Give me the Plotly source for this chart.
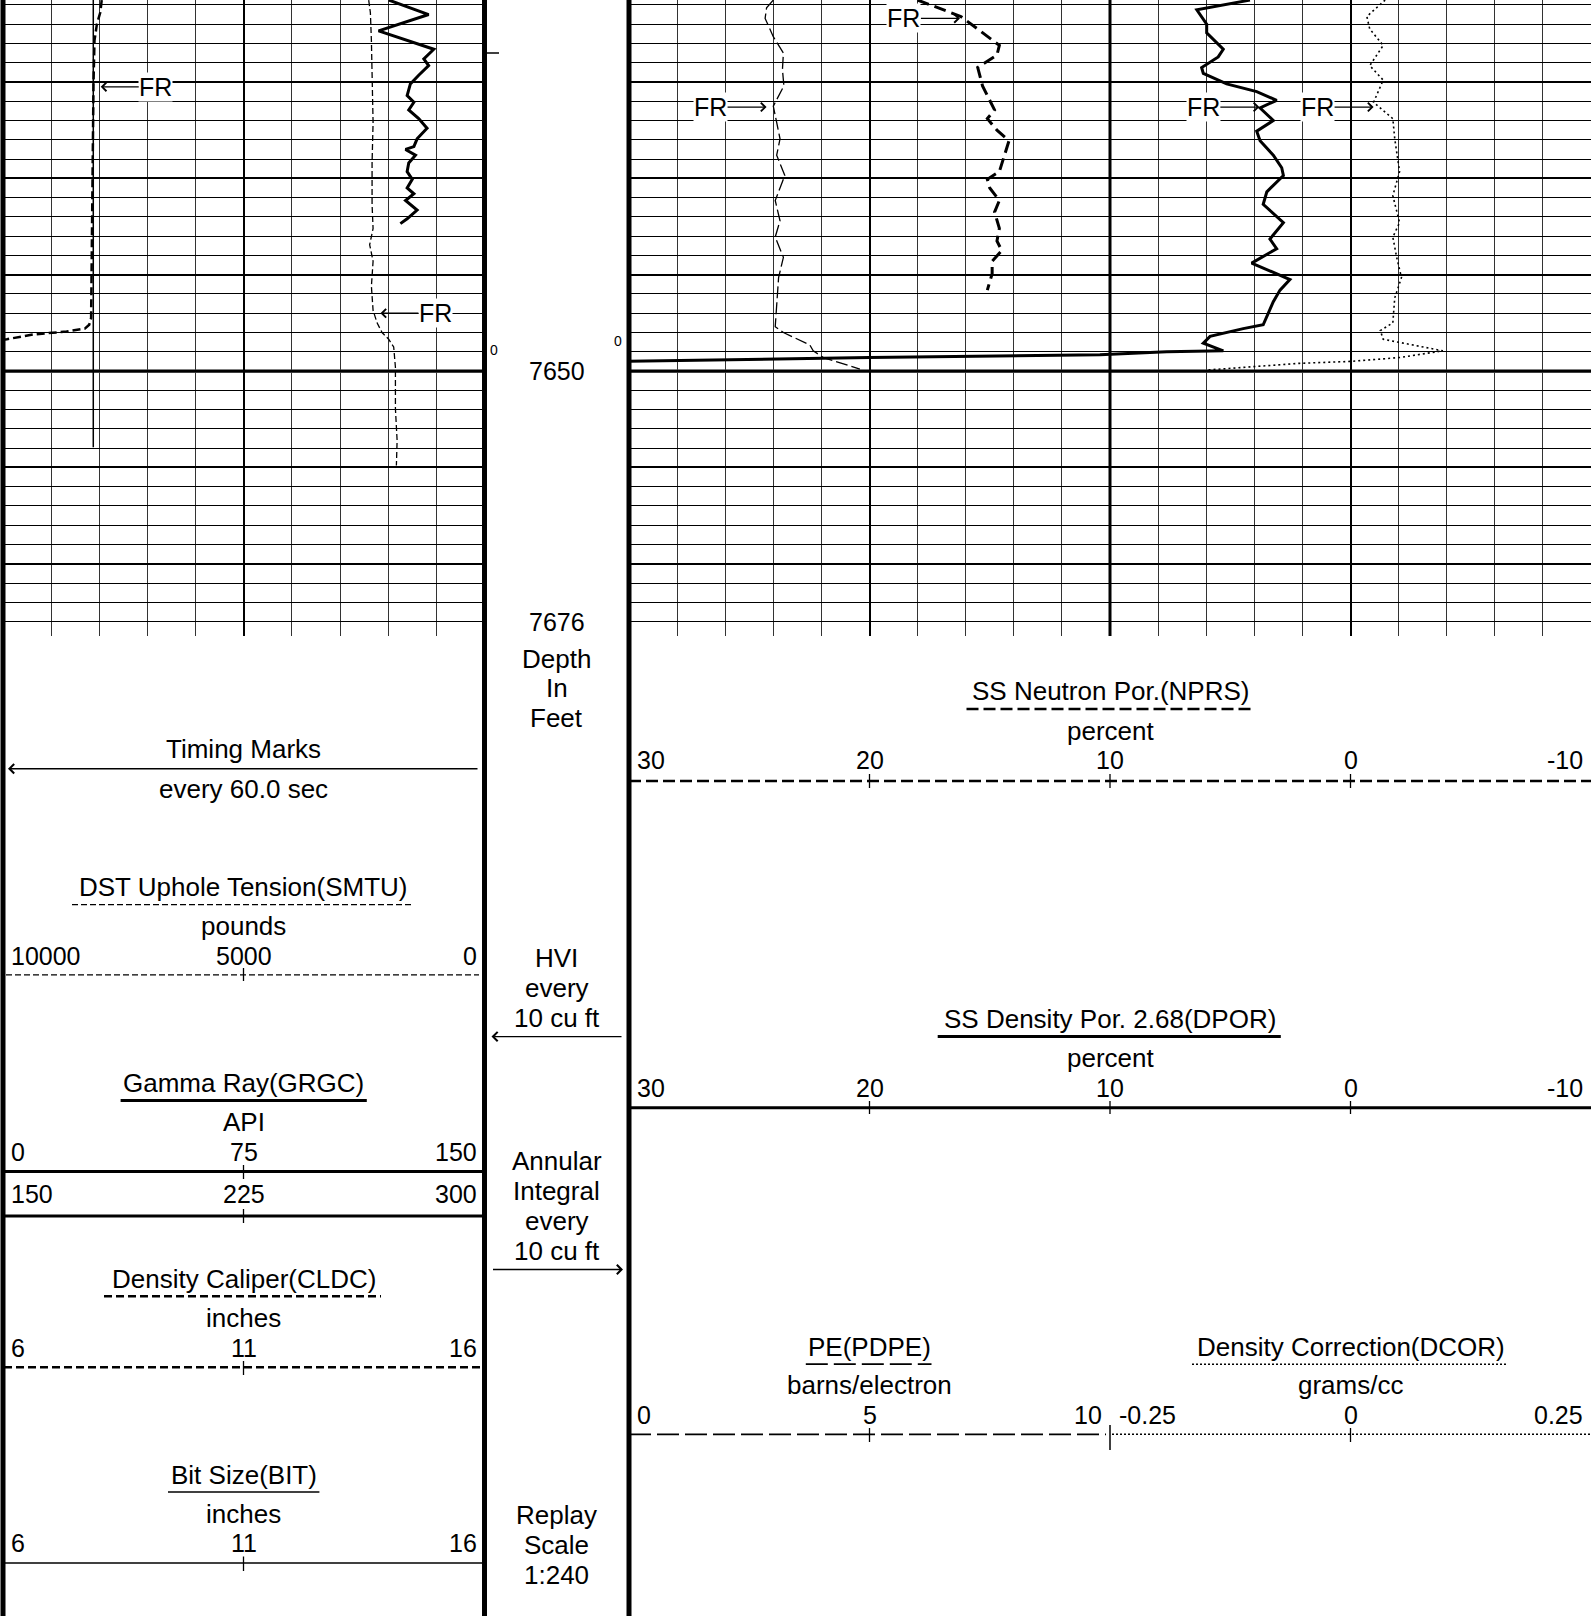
import plotly.graph_objects as go

W, H = 1591, 1616
FONT = "Liberation Sans, Arial, sans-serif"

DEPTH_WINDOW = [7677.5, 7611.49]        # bottom, top of the grid window (ft)
DEPTH_LABELS = [7650, 7676]
DEPTH_50FT_LINES = [7650]

# Track 1
GR_DEPTH = [7611.5, 7613.0, 7614.7, 7616.6, 7617.6, 7618.3, 7619.3, 7620.2, 7621.4, 7622.1,
            7622.9, 7623.8, 7624.8, 7625.9, 7626.7, 7627.0, 7627.6, 7628.4, 7629.3, 7630.1,
            7631.0, 7631.6, 7632.3, 7633.3, 7634.2, 7634.7]
GR_API = [120.2, 132.6, 117.0, 134.2, 131.1, 132.6, 129.5, 126.9, 125.9, 128.0,
          126.4, 129.5, 132.1, 129.0, 128.0, 125.4, 128.5, 126.4, 125.9, 127.5,
          125.9, 128.0, 125.4, 129.0, 125.9, 123.8]

CLDC_DEPTH = [7611.5, 7612.8, 7614.0, 7615.7, 7620.0, 7628.4, 7636.9, 7644.5, 7645.2, 7645.6,
              7645.9, 7646.2, 7646.7, 7647.0]
CLDC_IN = [8.05, 8.02, 7.95, 7.90, 7.88, 7.86, 7.84, 7.83, 7.79, 7.70,
           7.32, 6.63, 6.08, 5.60]

BIT_DEPTH = [7611.5, 7657.9]
BIT_IN = [7.875, 7.875]

SMTU_DEPTH = [7611.5, 7612.8, 7615.7, 7620.0, 7624.2, 7628.4, 7632.7, 7635.2, 7636.9, 7638.6,
              7641.2, 7643.7, 7645.0, 7646.0, 7646.7, 7647.5, 7649.6, 7653.9, 7657.2, 7659.8]
SMTU_LBS = [2405, 2370, 2349, 2335, 2314, 2335, 2335, 2314, 2385, 2314,
            2349, 2314, 2231, 2127, 1990, 1886, 1850, 1850, 1815, 1830]

# Track 2/3
PE_DEPTH = [7611.5, 7612.3, 7613.4, 7615.3, 7617.0, 7618.7, 7620.4, 7621.2, 7622.5, 7624.2,
            7625.9, 7627.6, 7629.7, 7632.3, 7634.4, 7636.1, 7638.2, 7640.3, 7642.8, 7645.4,
            7646.0, 7647.3, 7647.9, 7648.6, 7649.8]
PE_BARNS = [3.00, 2.86, 2.83, 3.00, 3.21, 3.19, 3.22, 3.14, 3.00, 3.07,
            3.14, 3.07, 3.24, 3.04, 3.14, 3.04, 3.21, 3.11, 3.07, 3.04,
            3.21, 3.76, 3.83, 4.04, 4.80]

NPRS_DEPTH = [7611.5, 7613.2, 7614.7, 7616.2, 7617.2, 7618.5, 7620.4, 7621.9, 7622.9, 7623.8,
              7625.0, 7626.1, 7627.6, 7629.3, 7630.1, 7631.0, 7632.3, 7633.5, 7635.2, 7636.5,
              7637.5, 7638.6, 7639.9, 7641.6]
NPRS_PCT = [18.0, 16.2, 15.4, 14.6, 14.7, 15.5, 15.3, 15.0, 14.8, 15.1,
            14.7, 14.2, 14.4, 14.6, 15.1, 15.0, 14.6, 14.8, 14.6, 14.7,
            14.5, 14.9, 14.9, 15.1]

DPOR_DEPTH = [7611.5, 7612.5, 7614.0, 7614.9, 7616.6, 7617.4, 7618.5, 7619.1, 7620.2, 7621.0,
              7621.9, 7622.7, 7624.0, 7625.1, 7626.1, 7627.6, 7628.9, 7629.7, 7631.4, 7632.7,
              7634.6, 7636.3, 7637.3, 7638.8, 7640.5, 7641.6, 7642.8, 7644.3, 7645.2, 7645.6,
              7646.4, 7647.1, 7647.9, 7648.0, 7648.3, 7648.6, 7649.0]
DPOR_PCT = [4.18, 6.39, 5.98, 5.98, 5.29, 5.50, 6.19, 6.12, 5.15, 3.90,
            3.07, 3.76, 3.21, 3.90, 3.76, 3.21, 2.86, 2.79, 3.48, 3.63,
            2.79, 3.35, 3.07, 4.11, 2.52, 2.93, 3.21, 3.48, 3.63, 4.46,
            5.84, 6.12, 5.29, 7.64, 10.42, 20.0, 30.5]

DCOR_DEPTH = [7611.5, 7613.2, 7614.5, 7616.2, 7618.3, 7619.8, 7622.1, 7623.8, 7625.9, 7629.3,
              7631.8, 7634.6, 7636.1, 7638.2, 7640.3, 7642.4, 7645.0, 7645.8, 7646.7, 7647.9,
              7648.6, 7649.0, 7649.2, 7649.9]
DCOR_GCC = [0.036, 0.017, 0.020, 0.034, 0.020, 0.034, 0.024, 0.044, 0.046, 0.051,
            0.044, 0.051, 0.044, 0.048, 0.053, 0.046, 0.044, 0.031, 0.034, 0.096,
            0.051, 0.000, -0.053, -0.150]

# header scale labels
SMTU_SCALE = ["10000", "5000", "0"]
GR_SCALE_1 = ["0", "75", "150"]
GR_SCALE_2 = ["150", "225", "300"]
CLDC_SCALE = ["6", "11", "16"]
BIT_SCALE = ["6", "11", "16"]
NPRS_SCALE = ["30", "20", "10", "0", "-10"]
DPOR_SCALE = ["30", "20", "10", "0", "-10"]
PE_SCALE = ["0", "5", "10"]
DCOR_SCALE = ["-0.25", "0", "0.25"]

# "FR" first-reading flags: (x axis, y axis, curve value, depth)
FR_FLAGS = [
    ("x2", "y", 8.03, 7620.5),
    ("x4", "y", 2162, 7644.0),
    ("x7", "y2", 2.86, 7622.6),
    ("x5", "y2", 16.24, 7613.4),
    ("x6", "y2", 3.79, 7622.6),
    ("x8", "y2", 0.024, 7622.6),
]

# ===================== FIGURE =====================
fig = go.Figure()


def curve(x, y, xa, ya, width, dash):
    fig.add_trace(go.Scatter(x=x, y=y, xaxis=xa, yaxis=ya, mode="lines",
                             line=dict(color="black", width=width, dash=dash),
                             showlegend=False, hoverinfo="skip"))


curve(BIT_IN, BIT_DEPTH, "x3", "y", 1.5, "solid")
curve(SMTU_LBS, SMTU_DEPTH, "x4", "y", 1.3, "6px,3px")
curve(CLDC_IN, CLDC_DEPTH, "x2", "y", 2.5, "8px,4px")
curve(GR_API, GR_DEPTH, "x", "y", 3, "solid")
curve(PE_BARNS, PE_DEPTH, "x7", "y2", 1.3, "12px,4px")
curve(DCOR_GCC, DCOR_DEPTH, "x8", "y2", 1.6, "2px,3px")
curve(NPRS_PCT, NPRS_DEPTH, "x5", "y2", 3, "12px,6px")
curve(DPOR_PCT, DPOR_DEPTH, "x6", "y2", 3, "solid")

GRID_BOTTOM_PX = 636
TRACK_Y = [1 - GRID_BOTTOM_PX / H, 1.0]
T1 = [3 / W, 484.5 / W]
T2 = [629 / W, 1.0]


def grid_xaxis(dom, rng, anchor, tick0, dtick, minor_dtick):
    return dict(domain=dom, range=rng, anchor=anchor, tickmode="linear", tick0=tick0, dtick=dtick,
                showgrid=True, gridcolor="black", gridwidth=2,
                minor=dict(tickmode="linear", tick0=tick0, dtick=minor_dtick, showgrid=True,
                           gridcolor="#333333", gridwidth=1, ticks=""),
                showticklabels=False, ticks="", zeroline=False, showline=False, fixedrange=True)


def overlay_x(dom, rng, over, anchor):
    return dict(domain=dom, range=rng, overlaying=over, anchor=anchor, visible=False, fixedrange=True)


def depth_yaxis(anchor):
    return dict(domain=TRACK_Y, range=DEPTH_WINDOW, anchor=anchor, tickmode="linear", tick0=7610,
                dtick=10, showgrid=True, gridcolor="black", gridwidth=2,
                minor=dict(tickmode="linear", tick0=7610, dtick=2, showgrid=True,
                           gridcolor="black", gridwidth=1, ticks=""),
                showticklabels=False, ticks="", zeroline=False, showline=False, fixedrange=True)


fig.update_layout(
    width=W, height=H, margin=dict(l=0, r=0, t=0, b=0),
    paper_bgcolor="white", plot_bgcolor="white", showlegend=False,
    font=dict(family=FONT, color="black"),
    xaxis=grid_xaxis(T1, [0, 150], "y", 0, 75, 15),
    xaxis2=overlay_x(T1, [6, 16], "x", "y"),
    xaxis3=overlay_x(T1, [6, 16], "x", "y"),
    xaxis4=overlay_x(T1, [10000, 0], "x", "y"),
    xaxis5=grid_xaxis(T2, [30, -10], "y2", 0, 10, 2),
    xaxis6=overlay_x(T2, [30, -10], "x5", "y2"),
    xaxis7=overlay_x(T2, [0, 20], "x5", "y2"),
    xaxis8=overlay_x(T2, [-0.75, 0.25], "x5", "y2"),
    yaxis=depth_yaxis("x"),
    yaxis2=depth_yaxis("x5"),
)

shapes = []


def py(y):
    return 1 - y / H


def hline(x0, x1, y, width, dash="solid"):
    shapes.append(dict(type="line", xref="paper", yref="paper", x0=x0 / W, x1=x1 / W,
                       y0=py(y), y1=py(y), line=dict(color="black", width=width, dash=dash)))


def vline(x, y0, y1, width):
    shapes.append(dict(type="line", xref="paper", yref="paper", x0=x / W, x1=x / W,
                       y0=py(y0), y1=py(y1), line=dict(color="black", width=width)))


# heavy 50-ft depth lines
for d in DEPTH_50FT_LINES:
    for xr, yr in (("x domain", "y"), ("x5 domain", "y2")):
        shapes.append(dict(type="line", xref=xr, yref=yr, x0=0, x1=1, y0=d, y1=d,
                           line=dict(color="black", width=3.2), layer="below"))

# track borders
vline(3, 0, H, 5)
vline(484.5, 0, H, 5)
vline(629, 0, H, 5)
vline(1110, 0, GRID_BOTTOM_PX, 3)
# timing tick in depth column
hline(487, 499, 53, 1.5)


def txt(s, x, y, size=26, xanchor="center", yref="paper"):
    fig.add_annotation(text=s, x=x / W, y=(py(y) if yref == "paper" else y), xref="paper", yref=yref,
                       xanchor=xanchor, yanchor="middle", showarrow=False,
                       font=dict(family=FONT, size=size, color="black"))


def arrow(x_tip, y, tail_dx):
    fig.add_annotation(x=x_tip / W, y=py(y), xref="paper", yref="paper", text="",
                       showarrow=True, ax=tail_dx, ay=0, arrowhead=4, arrowsize=1.3,
                       arrowwidth=1.4, arrowcolor="black", standoff=0)


def scale_labels(labels, xs, anchors, y, size=25):
    for s, x, a in zip(labels, xs, anchors):
        txt(s, x, y, size=size, xanchor=a)


# FR flags
for xa, ya, val, dep in FR_FLAGS:
    off = 55 if ya == "y" else -56
    fig.add_annotation(x=val, y=dep, xref=xa, yref=ya, text="FR", showarrow=True, ax=off, ay=0,
                       arrowhead=4, arrowsize=1.3, arrowwidth=1.3, arrowcolor="black",
                       bgcolor="white", borderpad=0, standoff=0,
                       font=dict(family=FONT, size=25, color="black"))

# small zero markers
txt("0", 494, 350, size=14)
txt("0", 618, 341, size=14)

# depth column
CX = 556.5
for d in DEPTH_LABELS:
    txt(str(d), CX, d, size=25, yref="y")
for s, y in (("Depth", 658.5), ("In", 688.3), ("Feet", 718.2),
             ("HVI", 958.3), ("every", 988.2), ("10 cu ft", 1018),
             ("Annular", 1161.3), ("Integral", 1191.1), ("every", 1221), ("10 cu ft", 1251),
             ("Replay", 1514.7), ("Scale", 1544.6), ("1:240", 1574.5)):
    txt(s, CX, y)
arrow(491.5, 1036.6, 131.5)
arrow(623, 1269.5, -131.5)

# ---- track 1 header ----
C1 = 243.5
X3 = [9, C1, 479]
A3 = ["left", "center", "right"]
txt("Timing Marks", C1, 749)
arrow(8, 768.7, 471)
txt("every 60.0 sec", C1, 789.3)

txt("DST Uphole Tension(SMTU)", C1, 887.2)
hline(72, 414, 904.7, 1.3, "6px,3px")
txt("pounds", C1, 926.3)
scale_labels(SMTU_SCALE, X3, A3, 956.2)
hline(6, 479, 974.8, 1.3, "6px,3px")
vline(C1, 968, 981, 1.3)

txt("Gamma Ray(GRGC)", C1, 1083)
hline(120.6, 366.8, 1100.5, 3)
txt("API", C1, 1122)
scale_labels(GR_SCALE_1, X3, A3, 1152)
hline(3, 484, 1171.6, 3)
vline(C1, 1165, 1179, 1.3)
scale_labels(GR_SCALE_2, X3, A3, 1194.2)
hline(3, 484, 1215.9, 3)
vline(C1, 1209, 1223, 1.3)

txt("Density Caliper(CLDC)", C1, 1278.7)
hline(104, 381, 1296.2, 2.5, "8px,4px")
txt("inches", C1, 1317.9)
scale_labels(CLDC_SCALE, X3, A3, 1347.8)
hline(4, 484, 1367.3, 2.5, "8px,4px")
vline(C1, 1361, 1375, 1.3)

txt("Bit Size(BIT)", C1, 1474.5)
hline(168, 319.4, 1492, 1.5)
txt("inches", C1, 1513.7)
scale_labels(BIT_SCALE, X3, A3, 1542.5)
hline(3, 484, 1563.1, 1.5)
vline(C1, 1556.5, 1571, 1.3)

# ---- track 2/3 header ----
X5 = [635, 869.5, 1110, 1350.5, 1585]
A5 = ["left", "center", "center", "center", "right"]
txt("SS Neutron Por.(NPRS)", 1110, 691.4)
hline(966.5, 1252, 709, 2.5, "12px,5px")
txt("percent", 1110, 730.6)
scale_labels(NPRS_SCALE, X5, A5, 760.4)
hline(629, 1591, 781, 2.5, "12px,5px")
for x in X5[1:4]:
    vline(x, 774, 788, 1.3)

txt("SS Density Por. 2.68(DPOR)", 1110, 1019)
hline(937.7, 1280.8, 1036.6, 3)
txt("percent", 1110, 1058.2)
scale_labels(DPOR_SCALE, X5, A5, 1088)
hline(629, 1591, 1107.7, 3)
for x in X5[1:4]:
    vline(x, 1101, 1114, 1.3)

txt("PE(PDPE)", 869.5, 1346.7)
hline(805.8, 931.5, 1364.2, 1.8, "22px,6px")
txt("barns/electron", 869.5, 1384.9)
scale_labels(PE_SCALE, [635, 869.5, 1104], ["left", "center", "right"], 1414.7)
hline(629, 1106, 1434.3, 1.8, "22px,6px")
vline(869.5, 1428, 1442, 1.3)
vline(1110, 1425, 1450, 1.5)

txt("Density Correction(DCOR)", 1350.5, 1346.7)
hline(1192, 1506.5, 1364.2, 1.6, "2px,2px")
txt("grams/cc", 1350.5, 1384.9)
scale_labels(DCOR_SCALE, [1117, 1350.5, 1585], ["left", "center", "right"], 1414.7)
hline(1112, 1591, 1434.3, 1.6, "2px,2px")
vline(1350.5, 1428, 1442, 1.3)

fig.update_layout(shapes=shapes)

fig.write_html("out.html", config={"displayModeBar": False},
               post_script="document.body.style.margin='0';document.body.style.overflow='hidden';")
